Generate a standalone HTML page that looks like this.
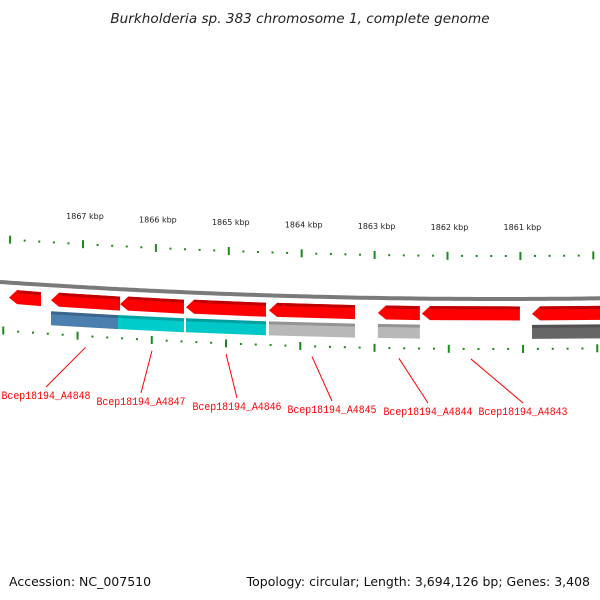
<!DOCTYPE html>
<html><head><meta charset="utf-8"><style>
html,body{margin:0;padding:0;background:#fff}
svg{display:block}
</style></head><body>
<svg id="chart" width="600" height="600" viewBox="0 0 600 600" xmlns="http://www.w3.org/2000/svg">
<text x="300" y="23" text-anchor="middle" font-family="DejaVu Sans, Liberation Sans, sans-serif" font-style="italic" font-size="13.6" fill="#222">Burkholderia sp. 383 chromosome 1, complete genome</text>
<text x="9" y="586" font-family="DejaVu Sans, Liberation Sans, sans-serif" font-size="12.5" fill="#111">Accession: NC_007510</text>
<text x="590" y="586" text-anchor="end" font-family="DejaVu Sans, Liberation Sans, sans-serif" font-size="12.5" fill="#111">Topology: circular; Length: 3,694,126 bp; Genes: 3,408</text>
<g id="g"></g>
</svg>
<script>
// data
const tickKbp = [1868, 1867, 1866, 1865, 1864, 1863, 1862, 1861, 1860];
const tickLabels = ["", "1867 kbp", "1866 kbp", "1865 kbp", "1864 kbp", "1863 kbp", "1862 kbp", "1861 kbp", ""];
const geneStart = [1868.015, 1867.439, 1866.492, 1865.587, 1864.449, 1862.955, 1862.351, 1860.841];
const geneEnd   = [1867.576, 1866.492, 1865.615, 1864.490, 1863.269, 1862.379, 1861.007, 1859.908];
const boxColor  = [null, "#4a7fb0", "#00cccc", "#00c8c8", "#b8b8b8", "#b8b8b8", null, "#666666"];
const boxSplit  = [null, 1866.52, null, null, null, null, null, null];
const labelText = ["Bcep18194_A4848","Bcep18194_A4847","Bcep18194_A4846","Bcep18194_A4845","Bcep18194_A4844","Bcep18194_A4843"];
const labelGene = [1, 2, 3, 4, 5, 6];
const labelX    = [46, 141, 237, 332, 428, 523];
const labelY    = [399, 405, 410, 413, 415, 415];

const NS = "http://www.w3.org/2000/svg";
const root = document.getElementById('g');
const X = k => 83 + (1867 - k) * 72.9;
const curve = x => -6.8e-5 * Math.pow(x - 500, 2);
function el(tag, attrs){ const e = document.createElementNS(NS, tag); for (const a in attrs) e.setAttribute(a, attrs[a]); root.appendChild(e); return e; }

// backbone
let d = "";
for (let x = 0; x <= 600; x += 5) d += (x ? "L" : "M") + x + " " + (299 + curve(x)).toFixed(1);
const bb = el('path', {d: d, stroke: "#7a7a7a", "stroke-width": 4, fill: "none"});



// ticks
tickKbp.forEach((k, i) => {
  for (let m = 0; m < 5; m++) {
    const kk = k - m * 0.2;
    const x = X(kk);
    const major = m === 0;
    if (x > -2 && x < 602) {
      const ty = 256 + curve(x);
      const t = el('line', {x1: x, x2: x, y1: ty - (major ? 4 : 1), y2: ty + (major ? 4 : 1), stroke: "#1a8a1a", "stroke-width": 2});
      
      
    }
    const bx = x * 1.0185 - 7;
    if (bx > -2 && bx < 602) {
      const by = 349 + curve(bx) * 1.1;
      const b = el('line', {x1: bx, x2: bx, y1: by - (major ? 4 : 1), y2: by + (major ? 4 : 1), stroke: "#1a8a1a", "stroke-width": 2});
      
      
    }
  }
  if (tickLabels[i]) {
    const x = X(k);
    const tl = el('text', {x: x + 2, y: 241 + curve(x) * 0.95 - 11, "text-anchor": "middle", "font-family": "DejaVu Sans, Liberation Sans, sans-serif", "font-size": 8, fill: "#222"});
    tl.textContent = tickLabels[i];
    
    
  }
});

// genes
geneStart.forEach((s, i) => {
  const x0 = X(s), x1 = X(geneEnd[i]);
  const y0 = 314 + curve(x0), y1 = 314 + curve(x1);
  const h = 13;
  const pts = [[x0 + 8, y0 - h/2 - 1], [x1, y1 - h/2 - 1], [x1, y1 + h/2], [x0 + 8, y0 + h/2], [x0, y0]].map(p => p.join(",")).join(" ");
  const a = el('polygon', {points: pts, fill: "#ff0000"});
  
  
  const sh = el('polygon', {points: [[x0 + 8, y0 - h/2 - 1], [x1, y1 - h/2 - 1], [x1, y1 - h/2 + 2], [x0 + 8, y0 - h/2 + 2]].map(p => p.join(",")).join(" "), fill: "#c00000"});
  
  
  if (boxColor[i]) {
    const segs = boxSplit[i] ? [[s, boxSplit[i], boxColor[i]], [boxSplit[i], geneEnd[i], "#00cccc"]] : [[s, geneEnd[i], boxColor[i]]];
    segs.forEach(sg => {
      const a0 = X(sg[0]), a1 = X(sg[1]);
      const b0 = 332 + curve(a0), b1 = 332 + curve(a1);
      const bx = el('polygon', {points: [[a0, b0 - 7], [a1, b1 - 7], [a1, b1 + 7], [a0, b0 + 7]].map(p => p.join(",")).join(" "), fill: sg[2]});
      
      
      const top = el('polygon', {points: [[a0, b0 - 7], [a1, b1 - 7], [a1, b1 - 4], [a0, b0 - 4]].map(p => p.join(",")).join(" "), fill: "#000", "fill-opacity": 0.2});
      
      
    });
  }
});

// labels
labelText.forEach((t, i) => {
  const g = labelGene[i];
  const gx = (X(geneStart[g]) + X(geneEnd[g])) / 2;
  const gy = 359 + curve(gx);
  const ln = el('line', {x1: gx, y1: gy, x2: labelX[i], y2: labelY[i] - 12, stroke: "#ff0000", "stroke-width": 1});
  
  
  const tx = el('text', {x: labelX[i], y: labelY[i], "text-anchor": "middle", "font-family": "Liberation Mono, monospace", "font-size": 11.2, fill: "#ff0000", textLength: 89, lengthAdjust: "spacingAndGlyphs"});
  tx.textContent = t;
  
  
});
</script>
</body></html>
